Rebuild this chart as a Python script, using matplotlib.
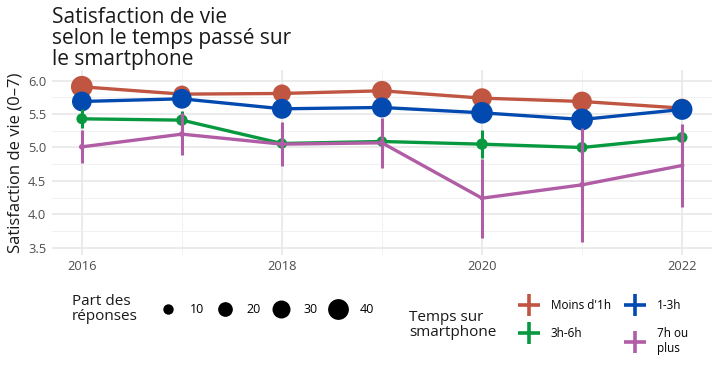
import matplotlib
matplotlib.use("Agg")
import matplotlib.pyplot as plt
from matplotlib.lines import Line2D
import numpy as np

plt.rcParams['font.family'] = ['Open Sans', 'DejaVu Sans']

years = [2016, 2017, 2018, 2019, 2020, 2021, 2022]
groups = ["Moins d'1h", "1-3h", "3h-6h", "7h ou\nplus"]
colors = ['#C05542', '#034AB0', '#07993F', '#B05DA5']

# mean life satisfaction per group
moins_1h = [5.91, 5.80, 5.81, 5.85, 5.74, 5.69, 5.59]
h1_3 = [5.69, 5.73, 5.58, 5.60, 5.52, 5.42, 5.57]
h3_6 = [5.43, 5.41, 5.06, 5.09, 5.05, 5.00, 5.15]
h7_plus = [5.01, 5.20, 5.05, 5.07, 4.24, 4.44, 4.73]

# half-width of the confidence intervals
err_moins_1h = [0.05, 0.05, 0.05, 0.05, 0.06, 0.06, 0.07]
err_1_3 = [0.05, 0.06, 0.06, 0.06, 0.07, 0.07, 0.08]
err_3_6 = [0.14, 0.14, 0.10, 0.10, 0.21, 0.12, 0.12]
err_7_plus = [0.25, 0.31, 0.33, 0.37, 0.59, 0.85, 0.62]

# share of answers (%)
part_moins_1h = [44, 27, 30, 36, 36, 36, 33]
part_1_3 = [36, 36, 37, 37, 43, 44, 40]
part_3_6 = [11, 12, 10, 10, 12, 11, 11]
part_7_plus = [3, 3, 3, 3, 2, 3, 2]

size_breaks = [10, 20, 30, 40]

means = [moins_1h, h1_3, h3_6, h7_plus]
errs = [err_moins_1h, err_1_3, err_3_6, err_7_plus]
parts = [part_moins_1h, part_1_3, part_3_6, part_7_plus]

def area(v):
    return 5.6 * np.asarray(v, dtype=float)

fig = plt.figure(figsize=(7.2, 3.71), dpi=100)
ax = fig.add_axes([0.072, 0.313, 0.917, 0.498])

for i, (m, e, p, c) in enumerate(zip(means, errs, parts, colors)):
    z = 3 + i
    ax.plot(years, m, color=c, lw=2.4, zorder=z, solid_capstyle='butt')
    m = np.array(m)
    e = np.array(e)
    ax.vlines(years, m - e, m + e, color=c, lw=2.2, zorder=z)
    ax.scatter(years, m, s=area(p), color=c, zorder=z, linewidths=0)

ax.set_xlim(2015.7, 2022.3)
ax.set_ylim(3.39, 6.16)
ax.set_xticks([2016, 2018, 2020, 2022])
ax.set_xticks([2017, 2019, 2021], minor=True)
ax.set_yticks([3.5, 4.0, 4.5, 5.0, 5.5, 6.0])
ax.set_yticks([3.75, 4.25, 4.75, 5.25, 5.75], minor=True)
ax.yaxis.set_major_formatter(matplotlib.ticker.FormatStrFormatter('%.1f'))
ax.grid(which='major', color='#E6E6E6', lw=1.1)
ax.grid(which='minor', color='#EFEFEF', lw=0.6)
ax.set_axisbelow(True)
for s in ax.spines.values():
    s.set_visible(False)
ax.tick_params(which='both', length=0, labelsize=9.3, labelcolor='#4D4D4D', pad=4)
ax.set_ylabel('Satisfaction de vie (0–7)', fontsize=12, color='#1A1A1A', labelpad=3)

fig.text(0.072, 0.982, 'Satisfaction de vie\nselon le temps passé sur\nle smartphone',
         fontsize=15, va='top', ha='left', linespacing=1.0, color='#1A1A1A')

# size legend
size_handles = [plt.scatter([], [], s=area(v), color='black', linewidths=0) for v in size_breaks]
leg1 = fig.legend(size_handles, [str(v) for v in size_breaks], ncol=4, frameon=False,
                  loc='center left', bbox_to_anchor=(0.216, 0.167), fontsize=9,
                  handletextpad=0.76, columnspacing=0.63, handlelength=2.0,
                  borderaxespad=0, borderpad=0)
fig.text(0.100, 0.167, 'Part des\nréponses', fontsize=11, va='center', ha='left',
         linespacing=1.0, color='#1A1A1A')

# colour legend
color_handles = [Line2D([], [], color=c, marker='+', ls='none', markersize=16, mew=2.6)
                 for c in colors]
order = [0, 2, 1, 3]
leg2 = fig.legend([color_handles[i] for i in order], [groups[i] for i in order], ncol=2,
                  frameon=False, loc='center left', bbox_to_anchor=(0.718, 0.118),
                  fontsize=8.5, handletextpad=0.86, columnspacing=1.02, handlelength=2.0,
                  labelspacing=1.3, borderaxespad=0, borderpad=0)
fig.text(0.568, 0.124, 'Temps sur\nsmartphone', fontsize=11, va='center', ha='left',
         linespacing=1.0, color='#1A1A1A')

fig.savefig('out.png', dpi=100)
